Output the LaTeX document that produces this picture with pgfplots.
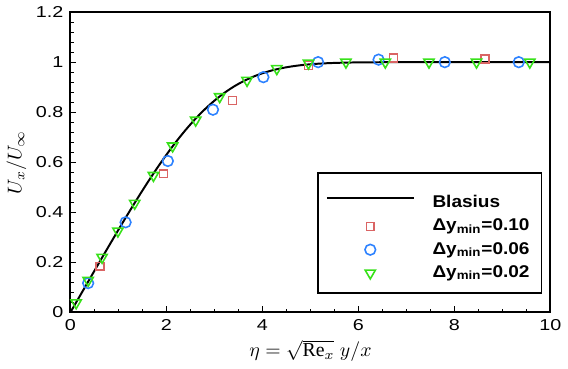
\documentclass[border=0pt]{standalone}
\usepackage{fontspec}
\setmainfont{Liberation Serif}
\newfontfamily\tickfont[FakeStretch=1.25]{Liberation Sans}
\newfontfamily\legfont[FakeStretch=1.12]{Liberation Sans}
\usepackage{pgfplots}
\pgfplotsset{compat=1.18}
\usetikzlibrary{calc}
\definecolor{sqred}{RGB}{218,100,100}
\definecolor{cblue}{RGB}{45,130,255}
\definecolor{tgreen}{RGB}{55,225,25}
\begin{document}
\begin{tikzpicture}
\begin{axis}[
  scale only axis,
  width=243pt, height=152pt,
  xmin=0, xmax=10, ymin=0, ymax=1.2,
  xtick={0,2,...,10}, ytick={0,0.2,...,1.2},
  minor x tick num=3, minor y tick num=4,
  tick align=inside,
  xtick pos=left, ytick pos=left,
  major tick length=3pt, minor tick length=1.8pt,
  axis line style={line width=1pt},
  tick style={line width=0.6pt, black},
  /pgf/number format/assume math mode=true,
  tick label style={font=\fontsize{8}{9}\selectfont\tickfont},
  yticklabel style={/pgf/number format/fixed, /pgf/number format/precision=1},
  xlabel={$\eta=\sqrt{\mathrm{Re}_x}\;y/x$},
  ylabel={$U_x/U_\infty$},
  label style={font=\fontsize{10}{11}\selectfont},
  xlabel style={yshift=2pt},
  ylabel style={yshift=-2pt},
  legend image code/.code={\draw[mark repeat=2,mark phase=2] plot coordinates {(0pt,0pt) (22pt,0pt) (44pt,0pt)};},
  legend style={at={(rel axis cs:0.514,0.467)}, anchor=north west,
    draw=black, line width=0.8pt, fill=white, inner xsep=4pt, inner ysep=4.5pt,
    font=\fontsize{8.6}{10}\selectfont\legfont\bfseries, row sep=0.3pt,
    /tikz/every odd column/.append style={column sep=7pt}},
  legend cell align=left,
]
\addplot[black, line width=1pt, smooth] coordinates {
  (0,0) (0.2,0.06641) (0.4,0.13277) (0.6,0.19894) (0.8,0.26471) (1.0,0.32979)
  (1.2,0.39378) (1.4,0.45627) (1.6,0.51676) (1.8,0.57477) (2.0,0.62977)
  (2.2,0.68132) (2.4,0.72899) (2.6,0.77246) (2.8,0.81152) (3.0,0.84605)
  (3.2,0.87609) (3.4,0.90177) (3.6,0.92333) (3.8,0.94112) (4.0,0.95552)
  (4.2,0.96696) (4.4,0.97587) (4.6,0.98269) (4.8,0.98779) (5.0,0.99155)
  (5.2,0.99425) (5.4,0.99616) (5.6,0.99748) (5.8,0.99838) (6.0,0.99898)
  (6.4,0.99961) (6.8,0.99987) (7.2,0.99996) (8,1.0) (10,1.0)
};
\addlegendentry{\rule{0pt}{11pt}Blasius}
\addplot[only marks, mark=square, mark size=2pt, sqred, mark options={line width=0.8pt}] coordinates {
  (0.62,0.184) (1.94,0.554) (3.38,0.847) (4.96,0.986) (6.73,1.017) (8.64,1.012)
};
\addlegendentry{Δy\textsubscript{min}=0.10}
\addplot[only marks, mark=o, mark size=2.7pt, cblue, mark options={line width=0.8pt}] coordinates {
  (0.37,0.117) (1.15,0.36) (2.03,0.605) (2.97,0.81) (4.02,0.94)
  (5.16,1.0) (6.42,1.01) (7.80,1.0) (9.34,1.0)
};
\addlegendentry{Δy\textsubscript{min}=0.06}
\addplot[only marks, mark=triangle, mark size=3pt, tgreen, mark options={line width=0.8pt, rotate=180}] coordinates {
  (0.12,0.038) (0.37,0.128) (0.66,0.22) (0.99,0.325) (1.34,0.436) (1.73,0.547)
  (2.13,0.665) (2.61,0.768) (3.11,0.862) (3.68,0.927) (4.30,0.974) (4.96,0.996)
  (5.74,1.0) (6.56,1.0) (7.47,1.0) (8.46,1.0) (9.57,1.0)
};
\addlegendentry{Δy\textsubscript{min}=0.02}
\end{axis}
\path ($(current axis.south west)+(-34pt,-27.5pt)$) rectangle ($(current axis.north east)+(7pt,5.5pt)$);
\end{tikzpicture}
\end{document}
